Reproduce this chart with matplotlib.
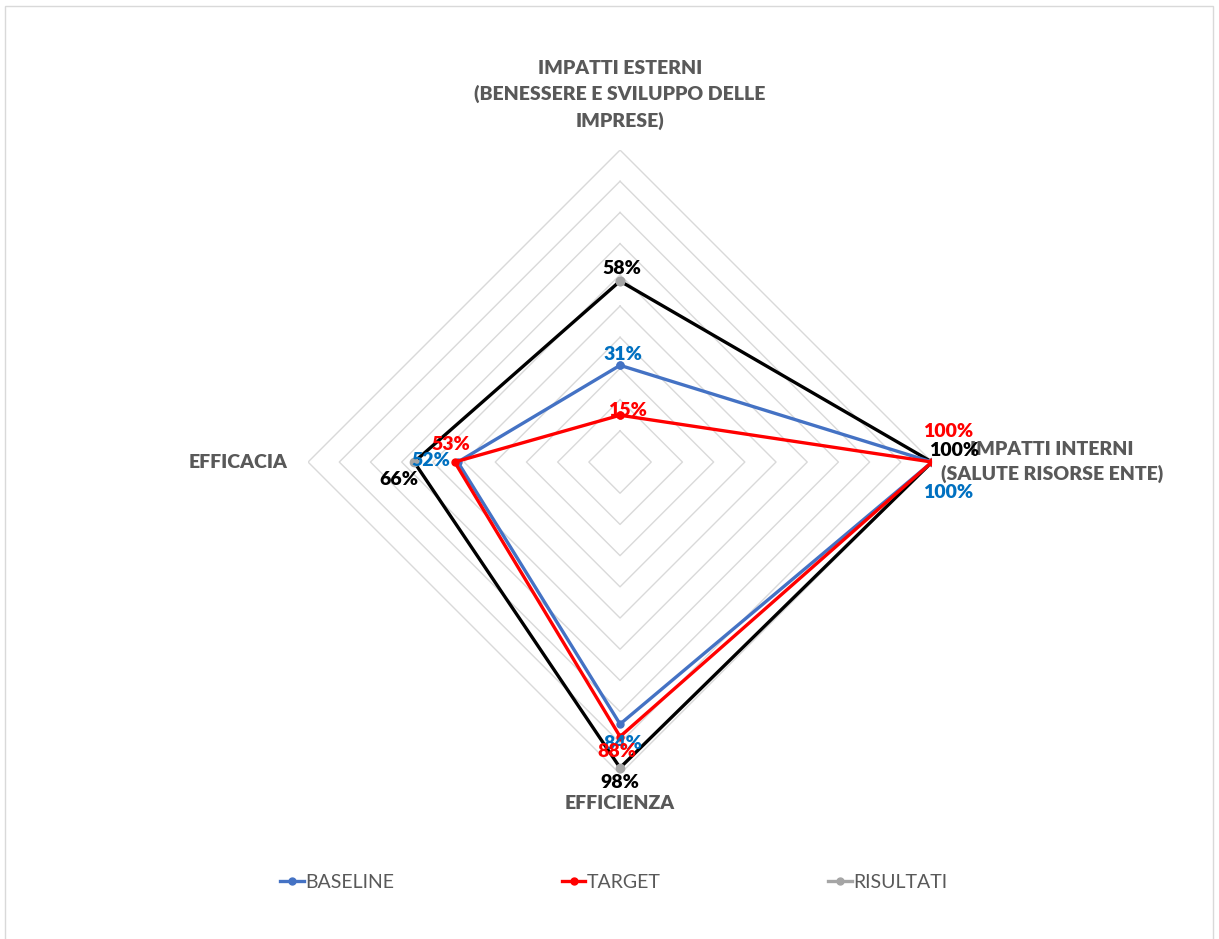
import numpy as np
import matplotlib.pyplot as plt
from matplotlib.lines import Line2D
from matplotlib.patches import Rectangle

plt.rcParams['font.family'] = ['Lato', 'DejaVu Sans']

categorie = ['IMPATTI ESTERNI\n(BENESSERE E SVILUPPO DELLE\nIMPRESE)',
             'IMPATTI INTERNI\n(SALUTE RISORSE ENTE)',
             'EFFICIENZA',
             'EFFICACIA']
baseline = [0.31, 1.00, 0.84, 0.52]
target = [0.15, 1.00, 0.88, 0.53]
risultati = [0.58, 1.00, 0.98, 0.66]
anelli = [0.1, 0.2, 0.3, 0.4, 0.5, 0.6, 0.7, 0.8, 0.9, 1.0]

# spostamenti delle etichette dati (pixel) per ogni punto
off_base = [(3, 11), (16, -30), (3, -19), (-27, 2)]
off_target = [(7, 5), (16, 31), (-3, -15), (-4, 18)]
off_ris = [(2, 13), (22, 12), (0, -15), (-15, -17)]

col_base = '#4472C4'
col_target = '#FF0000'
col_ris = '#000000'
grigio = '#595959'

theta = np.linspace(0, 2*np.pi, len(categorie), endpoint=False)
theta_c = np.append(theta, theta[0])

fig = plt.figure(figsize=(12.19, 9.39), dpi=100)
fig.patches.append(Rectangle((5/1219, -0.01), 1208/1219, 1-6/939+0.01,
                             transform=fig.transFigure, fill=False,
                             edgecolor='#D9D9D9', lw=1))

ax = fig.add_axes([0.2527, 0.1757, 0.5119, 0.6645], projection='polar')
ax.set_theta_zero_location('N')
ax.set_theta_direction(-1)
ax.set_ylim(0, 1)
ax.grid(False)
ax.set_xticks([])
ax.set_yticks([])
ax.spines['polar'].set_visible(False)
ax.patch.set_alpha(0)

for r in anelli:
    ax.plot(theta_c, [r]*len(theta_c), color='#D9D9D9', lw=1, zorder=1)

def chiudi(v):
    return v + v[:1]

ax.plot(theta_c, chiudi(risultati), color=col_ris, lw=2.4, marker='o',
        ms=6, mfc='#A5A5A5', mec='#A5A5A5', zorder=3)
ax.plot(theta_c, chiudi(baseline), color=col_base, lw=2.4, marker='o',
        ms=5, mfc=col_base, mec=col_base, zorder=4)
ax.plot(theta_c, chiudi(target), color=col_target, lw=2.4, marker='o',
        ms=5, mfc=col_target, mec=col_target, zorder=5)

for vals, offs, c in [(risultati, off_ris, '#000000'),
                      (baseline, off_base, '#0070C0'),
                      (target, off_target, '#FF0000')]:
    for t, v, o in zip(theta, vals, offs):
        ax.annotate('{:.0f}%'.format(v*100), (t, v), xytext=o,
                    textcoords='offset pixels', ha='center', va='center',
                    fontsize=14, fontweight='heavy', color=c, zorder=6)

# etichette delle categorie
ax.text(theta[0], 1.065, categorie[0], ha='center', va='bottom',
        fontsize=14, fontweight='heavy', color=grigio, linespacing=1.55)
ax.text(theta[1], 1.385, categorie[1], ha='center', va='center',
        fontsize=14, fontweight='heavy', color=grigio, linespacing=1.45)
ax.text(theta[2], 1.067, categorie[2], ha='center', va='top',
        fontsize=14, fontweight='heavy', color=grigio)
ax.text(theta[3], 1.067, categorie[3], ha='right', va='center',
        fontsize=14, fontweight='heavy', color=grigio)

handles = [Line2D([], [], color=col_base, lw=2.4, marker='o', ms=5),
           Line2D([], [], color=col_target, lw=2.4, marker='o', ms=5),
           Line2D([], [], color='#A5A5A5', lw=2.4, marker='o', ms=5)]
fig.legend(handles, ['BASELINE', 'TARGET', 'RISULTATI'], ncol=3,
           loc='center', bbox_to_anchor=(614/1219, 1-882/939), frameon=False,
           fontsize=14, labelcolor=grigio, handlelength=1.2,
           handletextpad=0.1, columnspacing=8.6)

fig.savefig('out.png', dpi=100)
